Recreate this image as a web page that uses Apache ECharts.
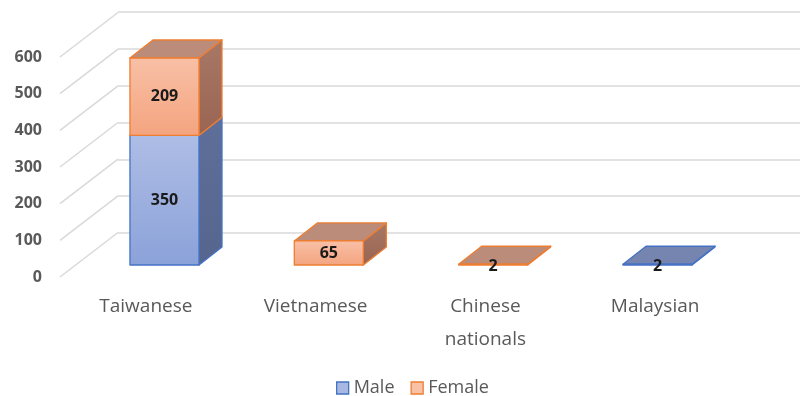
<!DOCTYPE html>
<html><head><meta charset="utf-8">
<script src="https://cdn.jsdelivr.net/npm/echarts@6/dist/echarts.min.js"></script>
<style>html,body{margin:0;padding:0;background:#fff}#c{width:806px;height:396px}</style>
</head><body><div id="c"></div>
<script>
const categories = ['Taiwanese', 'Vietnamese', 'Chinese\nnationals', 'Malaysian'];
const seriesNames = ['Male', 'Female'];
const male = [350, 0, 0, 2];
const female = [209, 65, 2, 0];
const yTicks = [0, 100, 200, 300, 400, 500, 600];

const FONT = '"Open Sans", "Noto Sans", sans-serif';
const TXT = '#595959';
const GRID = '#d9d9d9';
const styles = {
  Male:   { ft: '#aebde5', fb: '#8ba2d9', st: '#5f6f99', sb: '#56658e', top: '#7585b0', border: '#4472c4', icon: '#a9b8e2' },
  Female: { ft: '#f8c0a6', fb: '#f4a47f', st: '#a87766', sb: '#9a6552', top: '#bb8c79', border: '#ed7d31', icon: '#f9c1a6' }
};
const DX = 23, DY = -18;

function barRender(name) {
  const s = styles[name];
  return function (params, api) {
    const cat = api.value(0), val = api.value(1), base = api.value(2);
    if (!val) return null;
    const pB = api.coord([cat, base]);
    const pT = api.coord([cat, base + val]);
    const w = api.size([1, 0])[0] * 0.42;
    const xl = pB[0] - w / 2 + 2, xr = xl + w;
    const yb = pB[1], yt = pT[1];
    const stroke = { stroke: s.border, lineWidth: 1.3, lineJoin: 'round' };
    return {
      type: 'group',
      children: [
        { type: 'polygon', shape: { points: [[xr, yb], [xr + DX, yb + DY], [xr + DX, yt + DY], [xr, yt]] },
          style: Object.assign({ fill: new echarts.graphic.LinearGradient(0, 0, 0, 1, [{ offset: 0, color: s.st }, { offset: 1, color: s.sb }]) }, stroke) },
        { type: 'polygon', shape: { points: [[xl, yt], [xr, yt], [xr + DX, yt + DY], [xl + DX, yt + DY]] },
          style: Object.assign({ fill: s.top }, stroke) },
        { type: 'rect', shape: { x: xl, y: yt, width: w, height: Math.max(yb - yt, 0.5) },
          style: Object.assign({ fill: new echarts.graphic.LinearGradient(0, 0, 0, 1, [{ offset: 0, color: s.ft }, { offset: 1, color: s.fb }]) }, stroke) },
        { type: 'text', style: { text: String(val), x: (xl + xr) / 2, y: (yt + yb) / 2 + (yb - yt < 10 ? 2 : 0), align: 'center', verticalAlign: 'middle',
          fill: '#1a1a1a', font: 'bold 16px ' + FONT } }
      ]
    };
  };
}

const maleData = categories.map((c, i) => [i, male[i], 0]);
const femaleData = categories.map((c, i) => [i, female[i], male[i]]);

const chart = echarts.init(document.getElementById('c'), null, { renderer: 'canvas' });
chart.setOption({
  animation: false,
  backgroundColor: '#fff',
  legend: {
    left: 331, top: 374, itemWidth: 12, itemHeight: 12, itemGap: 16,
    textStyle: { color: TXT, fontSize: 18, fontFamily: FONT },
    data: seriesNames.map(n => ({ name: n, icon: 'rect', itemStyle: { color: styles[n].icon, borderColor: styles[n].border, borderWidth: 1.3 } }))
  },
  grid: [
    { left: 80.3, right: 68.3, top: 42.8, bottom: 131 },   // bar front plane
    { left: 118, right: 6, top: 12, bottom: 163 },         // back wall
    { left: 60, right: 6, top: 57, bottom: 119 },          // front axis labels
    { left: 61, right: 66, top: 0, bottom: 106 }           // category labels
  ],
  xAxis: [
    { gridIndex: 0, type: 'category', data: categories, show: false },
    { gridIndex: 1, type: 'value', min: 0, max: 1, show: false },
    { gridIndex: 2, type: 'value', min: 0, max: 1, show: false },
    { gridIndex: 3, type: 'category', data: categories, position: 'bottom',
      axisLine: { show: false }, axisTick: { show: false }, splitLine: { show: false },
      axisLabel: { color: TXT, fontSize: 19, fontFamily: FONT, lineHeight: 33, margin: 0, interval: 0 } }
  ],
  yAxis: [
    { gridIndex: 0, type: 'value', min: 0, max: 600, show: false },
    { gridIndex: 1, type: 'value', min: 0, max: 600, interval: 100,
      axisLabel: { show: false }, axisLine: { show: false }, axisTick: { show: false },
      splitLine: { show: true, lineStyle: { color: GRID, width: 1.5 } } },
    { gridIndex: 2, type: 'value', min: 0, max: 600, interval: 100,
      axisLine: { show: false }, axisTick: { show: false }, splitLine: { show: false },
      axisLabel: { color: TXT, fontSize: 16, fontFamily: FONT, margin: 18, fontWeight: 'bold' } },
    { gridIndex: 3, type: 'value', show: false }
  ],
  series: [
    { type: 'custom', name: 'diag', silent: true, xAxisIndex: 2, yAxisIndex: 2,
      data: yTicks.map(v => [0, v]),
      renderItem: function (params, api) {
        const p = api.coord([0, api.value(1)]);
        return { type: 'line', shape: { x1: p[0], y1: p[1], x2: p[0] + 58, y2: p[1] - 44.5 }, style: { stroke: GRID, lineWidth: 1.5 } };
      }, z: 1 },
    { type: 'custom', name: 'Male', xAxisIndex: 0, yAxisIndex: 0, data: maleData, renderItem: barRender('Male'),
      encode: { x: 0, y: 1 }, itemStyle: { color: styles.Male.icon }, clip: false, z: 3 },
    { type: 'custom', name: 'Female', xAxisIndex: 0, yAxisIndex: 0, data: femaleData, renderItem: barRender('Female'),
      encode: { x: 0, y: 1 }, itemStyle: { color: styles.Female.icon }, clip: false, z: 4 }
  ]
});
</script></body></html>
